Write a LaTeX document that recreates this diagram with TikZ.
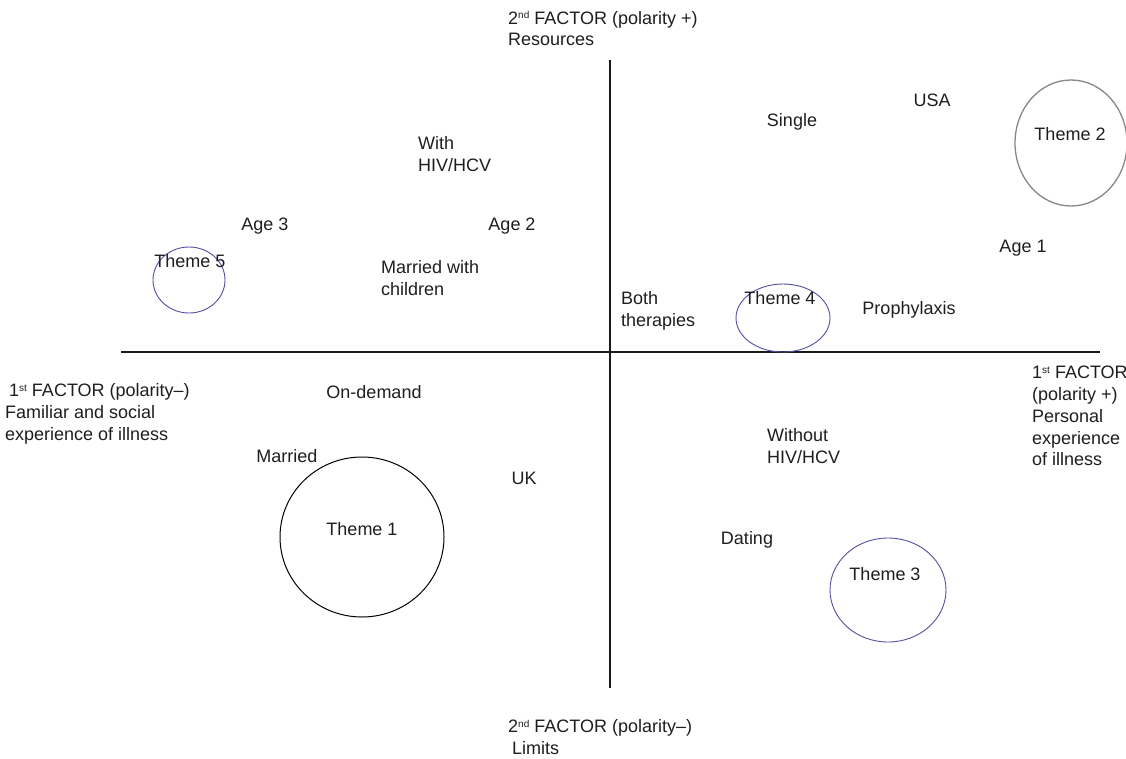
\documentclass[tikz,border=0pt]{standalone}
\usepackage{fontspec}
\setmainfont{Liberation Sans}
\definecolor{circblue}{RGB}{80,80,160}
\definecolor{circgray}{RGB}{135,135,135}
\definecolor{txt}{RGB}{30,30,30}
\newcommand{\smallsup}[1]{\raisebox{0.55ex}{\fontsize{10}{10}\selectfont #1}}
\begin{document}
\begin{tikzpicture}[x=1pt,y=-1pt,
  lab/.style={font=\fontsize{18}{21.5}\selectfont, inner sep=0pt, text=txt},
  mlab/.style={lab, align=left, anchor=west},
  axlab/.style={font=\fontsize{18}{21.8}\selectfont, inner sep=0pt, align=left, anchor=west, text=txt},
  axisline/.style={line width=1.8pt, draw=black!90},
  bluering/.style={draw=circblue, line width=0.9pt},
  grayring/.style={draw=circgray, line width=1.3pt},
  blackring/.style={draw=black, line width=1pt}]
\useasboundingbox (0,0) rectangle (1126,758);

% axes
\coordinate (top) at (610,60);
\coordinate (bottom) at (610,688);
\coordinate (left) at (121,352);
\coordinate (right) at (1100,352);
\draw[axisline] (top) -- (bottom);
\draw[axisline] (left) -- (right);

% circles
\draw[bluering] (189,280) ellipse [x radius=36, y radius=33];
\draw[bluering] (783,318) ellipse [x radius=47, y radius=34];
\draw[grayring] (1071,143) ellipse [x radius=56, y radius=63];
\draw[blackring] (362,537) ellipse [x radius=82, y radius=80];
\draw[bluering] (888,590) ellipse [x radius=58, y radius=52];

% axis labels
\node[axlab] (ytop) at (508,28.5) {2\smallsup{nd} FACTOR (polarity +)\\Resources};
\node[axlab] (ybot) at (508,737) {2\smallsup{nd} FACTOR (polarity–)\\\hspace{4pt}Limits};
\node[axlab] (xleft) at (5,414) {\hspace{4pt}1\smallsup{st} FACTOR (polarity–)\\Familiar and social\\experience of illness};
\node[axlab] (xright) at (1032,416) {1\smallsup{st} FACTOR\\(polarity +)\\Personal\\experience\\of illness};

% labels
\node[lab] (usa) at (932,100) {USA};
\node[lab] (single) at (792,122) {Single};
\node[lab] (t2) at (1070,134) {Theme 2};
\node[mlab] (withhiv) at (418,154) {With\\HIV/HCV};
\node[lab] (age3) at (265,226) {Age 3};
\node[lab] (age2) at (512,226) {Age 2};
\node[lab] (age1) at (1023,248) {Age 1};
\node[lab] (t5) at (190,261) {Theme 5};
\node[mlab] (marriedch) at (381,278) {Married with\\children};
\node[mlab] (both) at (621,311) {Both\\therapies};
\node[lab] (t4) at (780,298) {Theme 4};
\node[lab] (proph) at (909,310) {Prophylaxis};
\node[lab] (ondemand) at (374,392) {On-demand};
\node[mlab] (without) at (767,446) {Without\\HIV/HCV};
\node[lab] (married) at (287,456) {Married};
\node[lab] (uk) at (524,478) {UK};
\node[lab] (t1) at (362,529) {Theme 1};
\node[lab] (dating) at (747,540) {Dating};
\node[lab] (t3) at (885,574) {Theme 3};
\end{tikzpicture}
\end{document}
